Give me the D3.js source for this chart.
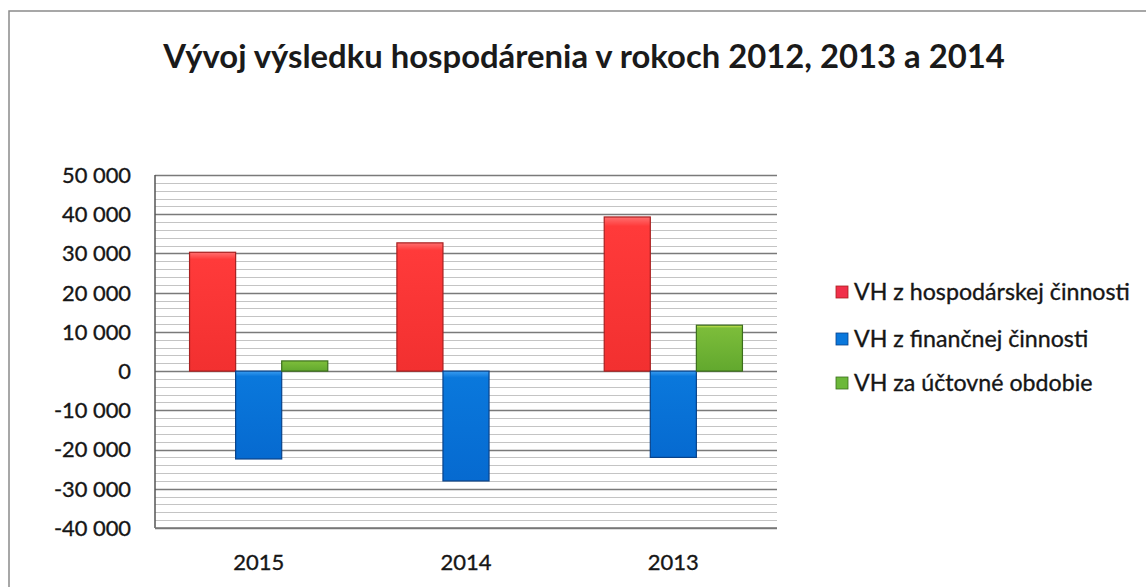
<!DOCTYPE html>
<html><head><meta charset="utf-8">
<script src="https://cdn.jsdelivr.net/npm/d3@7"></script>
<style>
html,body{margin:0;padding:0;background:#fff;}
svg{display:block;font-family:Lato,"Open Sans",sans-serif;}
</style></head>
<body>
<svg id="c" width="1146" height="587"></svg>
<script>
const title = "Vývoj výsledku hospodárenia v rokoch 2012, 2013 a 2014";
const categories = ["2015", "2014", "2013"];
const seriesNames = ["VH z hospodárskej činnosti", "VH z finančnej činnosti", "VH za účtovné obdobie"];
const hospodarska = [30300, 32700, 39300];
const financna = [-22400, -28000, -22000];
const uctovne = [2600, 0, 11700];
const yTicks = [50000, 40000, 30000, 20000, 10000, 0, -10000, -20000, -30000, -40000];
const seriesValues = [hospodarska, financna, uctovne];

const svg = d3.select("#c");
const W = 1146, H = 587;
const plot = {left: 155, right: 777, top: 175, bottom: 528};

const defs = svg.append("defs");
const styles = [
  {id: "gR", stops: ["#ff7070", "#ff3a3a", "#f23030"], stroke: "#a82020"},
  {id: "gB", stops: ["#3a9cf0", "#0a78dc", "#066ad0"], stroke: "#08428a"},
  {id: "gG", stops: ["#d8ea50", "#7cbd3a", "#62a82e"], stroke: "#3b6e1c"}
];
styles.forEach(s => {
  const g = defs.append("linearGradient").attr("id", s.id).attr("x1", 0).attr("y1", 0).attr("x2", 0).attr("y2", 1);
  g.append("stop").attr("offset", "0%").attr("stop-color", s.stops[0]);
  g.append("stop").attr("offset", "6%").attr("stop-color", s.stops[1]);
  g.append("stop").attr("offset", "100%").attr("stop-color", s.stops[2]);
});

svg.append("rect").attr("x", 9).attr("y", 11).attr("width", W + 20).attr("height", H + 20)
  .attr("fill", "none").attr("stroke", "#8a8a8a").attr("stroke-width", 1.5);

function fitSize(sel, base, target) {
  const w = sel.node().getComputedTextLength();
  return base * target / w;
}

const t = svg.append("text").attr("x", 584).attr("y", 68).attr("text-anchor", "middle")
  .attr("font-weight", "bold").attr("font-size", 32).attr("fill", "#1a1a1a").text(title);
t.attr("font-size", fitSize(t, 32, 842));

const y = d3.scaleLinear().domain([-40000, 50000]).range([plot.bottom, plot.top]);
const x = d3.scaleBand().domain(categories).range([plot.left, plot.right]).paddingInner(0).paddingOuter(0);
const xs = d3.scaleBand().domain(d3.range(3)).range([0, x.bandwidth()]).paddingInner(0).paddingOuter(0.75);

const minor = d3.range(-40000, 50001, 2000);
svg.append("g").selectAll("line").data(minor).join("line")
  .attr("x1", plot.left).attr("x2", plot.right)
  .attr("y1", d => Math.round(y(d)) + 0.5).attr("y2", d => Math.round(y(d)) + 0.5)
  .attr("stroke", d => d % 10000 === 0 ? "#7a7a7a" : "#c4c4c4")
  .attr("stroke-width", d => d % 10000 === 0 ? 1.4 : 1);

const gBars = svg.append("g");
seriesValues.forEach((vals, si) => {
  gBars.selectAll(null).data(categories.map((c, i) => ({c, v: vals[i]}))).join("rect")
    .filter(d => d.v !== 0)
    .attr("x", d => x(d.c) + xs(si))
    .attr("width", xs.bandwidth())
    .attr("y", d => y(Math.max(0, d.v)))
    .attr("height", d => Math.abs(y(d.v) - y(0)))
    .attr("fill", `url(#${styles[si].id})`)
    .attr("stroke", styles[si].stroke).attr("stroke-width", 1.2);
});

svg.append("line").attr("x1", plot.left).attr("x2", plot.left).attr("y1", plot.top).attr("y2", plot.bottom)
  .attr("stroke", "#555").attr("stroke-width", 1.5);
svg.append("line").attr("x1", plot.left).attr("x2", plot.right).attr("y1", plot.bottom).attr("y2", plot.bottom)
  .attr("stroke", "#777").attr("stroke-width", 1.5);

const fmt = v => (v < 0 ? "-" : "") + d3.format(",")(Math.abs(v)).replace(/,/g, " ");

// measure label sizes
const probe = svg.append("text").attr("font-size", 20).text("50 000");
const tickSize = fitSize(probe, 20, 69);
probe.text("2015");
const catSize = fitSize(probe, 20, 51);
probe.text(seriesNames[0]);
const legSize = fitSize(probe, 20, 276);
probe.remove();

const textStyle = sel => sel.attr("fill", "#161616").attr("stroke", "#161616").attr("stroke-width", 0.35);

svg.append("g").selectAll("text").data(yTicks).join("text")
  .attr("x", 131).attr("y", d => y(d)).attr("dy", "0.36em").attr("text-anchor", "end")
  .attr("font-size", tickSize).call(textStyle).text(fmt);

svg.append("g").selectAll("text").data(categories).join("text")
  .attr("x", d => x(d) + x.bandwidth() / 2).attr("y", 570).attr("text-anchor", "middle")
  .attr("font-size", catSize).call(textStyle).text(d => d);

const legY = [292, 339, 383];
const legColors = ["#f0304a", "#0a78dc", "#6cb83a"];
const leg = svg.append("g");
seriesNames.forEach((n, i) => {
  leg.append("rect").attr("x", 836).attr("y", legY[i] - 6).attr("width", 12).attr("height", 12)
    .attr("fill", legColors[i]).attr("stroke", styles[i].stroke).attr("stroke-width", 0.8);
  leg.append("text").attr("x", 854).attr("y", legY[i]).attr("dy", "0.36em")
    .attr("font-size", legSize).call(textStyle).text(n);
});
</script>
</body></html>
